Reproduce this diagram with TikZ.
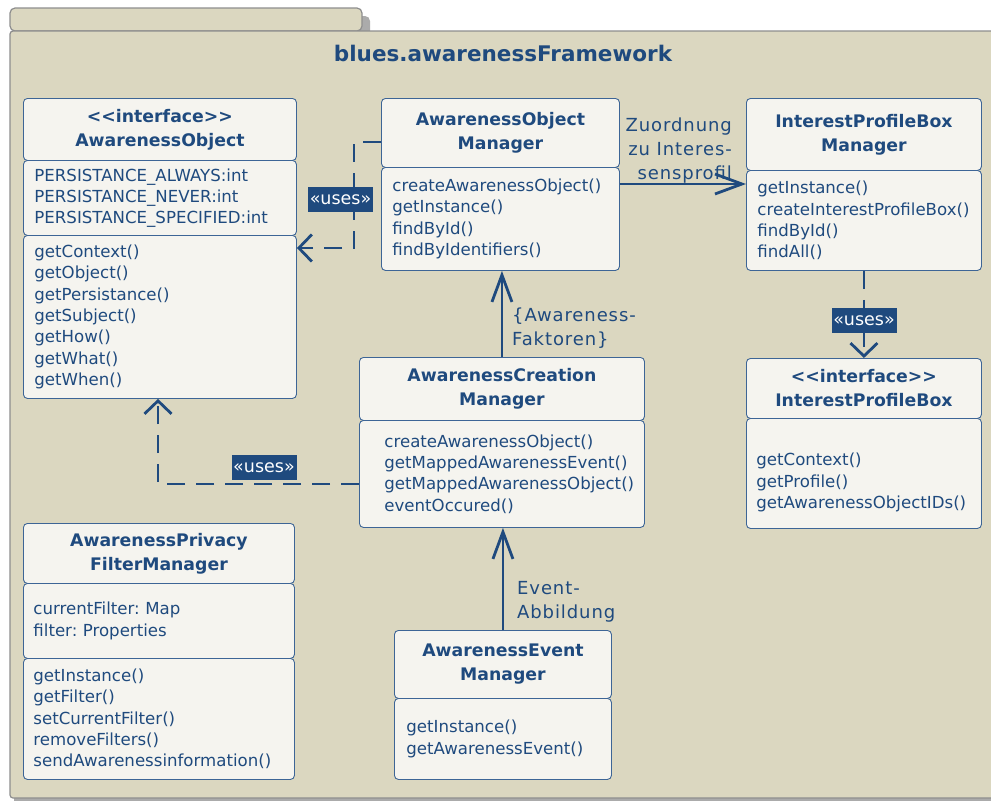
\documentclass[tikz,border=0pt]{standalone}
\usepackage{fontspec}
\setmainfont{DejaVu Sans}
\newfontfamily\labelfont[LetterSpace=5]{DejaVu Sans}
\usetikzlibrary{arrows.meta}
\hyphenpenalty=10000
\exhyphenpenalty=10000
\frenchspacing
\definecolor{ink}{HTML}{1F4A7E}
\definecolor{pkgfill}{HTML}{DBD7C0}
\definecolor{pkgline}{HTML}{8E8E8E}
\definecolor{pkgshadow}{HTML}{ABABAB}
\definecolor{boxfill}{HTML}{F5F4EF}
\definecolor{boxline}{HTML}{3D6596}
\tikzset{
  compartment/.style={draw=boxline, fill=boxfill, line width=0.9pt, rounded corners=4pt,
    anchor=north west, inner ysep=0pt, text=ink},
  classhead/.style={compartment, align=center, inner xsep=1pt,
    font=\bfseries\fontsize{17.3pt}{24pt}\selectfont},
  classbody/.style={compartment, align=left, font=\fontsize{16.6pt}{21.3pt}\selectfont},
  stereotype/.style={fill=ink, text=white, inner sep=0pt, minimum width=65pt,
    minimum height=25pt, font=\fontsize{17.5pt}{20pt}\selectfont},
  depline/.style={draw=ink, line width=2.8pt, dash pattern=on 18pt off 11pt,
    -{Straight Barb[length=13pt,width=27pt]}},
  assocline/.style={draw=ink, line width=2.8pt, -{Straight Barb[length=27pt,width=20pt]}},
  connlabel/.style={text=ink, inner sep=0pt, font=\labelfont\fontsize{18pt}{24pt}\selectfont},
}
\begin{document}
\begin{tikzpicture}[x=1pt,y=-1pt]
\useasboundingbox (0,0) rectangle (991,801);

% package frame with its tab
\fill[pkgshadow, rounded corners=5pt] (18,16) rectangle (370,38);
\fill[pkgshadow] (14,35) rectangle (1014,801);
\draw[pkgline, fill=pkgfill, line width=1.2pt, rounded corners=5pt] (10,8) rectangle (362,31);
\draw[pkgline, fill=pkgfill, line width=1.2pt, rounded corners=3pt] (10,31) rectangle (1010,798);
\node[text=ink, font=\bfseries\fontsize{21.5pt}{26pt}\selectfont] (title) at (503,53) {blues.awarenessFramework};

% AwarenessObject
\node[classhead, minimum width=273pt, text width=271pt, minimum height=62pt] (ao-head) at (23,98)
  {<\kern0pt<interface>\kern0pt>\\AwarenessObject};
\node[classbody, minimum width=273pt, inner xsep=11pt, text width=251pt, minimum height=75pt] (ao-attr) at (23,160)
  {PERSISTANCE\_ALWAYS:int\\PERSISTANCE\_NEVER:int\\PERSISTANCE\_SPECIFIED:int};
\node[classbody, minimum width=273pt, inner xsep=11pt, text width=251pt, minimum height=163pt] (ao-ops) at (23,235)
  {getContext()\\getObject()\\getPersistance()\\getSubject()\\getHow()\\getWhat()\\getWhen()};

% AwarenessObjectManager
\node[classhead, minimum width=238pt, text width=236pt, minimum height=69pt] (aom-head) at (381,98)
  {AwarenessObject\\Manager};
\node[classbody, minimum width=238pt, inner xsep=11pt, text width=216pt, minimum height=103pt] (aom-ops) at (381,167)
  {createAwarenessObject()\\getInstance()\\findById()\\findByIdentifiers()};

% InterestProfileBoxManager
\node[classhead, minimum width=235pt, text width=233pt, minimum height=72pt] (ipbm-head) at (746,98)
  {InterestProfileBox\\Manager};
\node[classbody, minimum width=235pt, inner xsep=11pt, text width=213pt, minimum height=100pt] (ipbm-ops) at (746,170)
  {getInstance()\\createInterestProfileBox()\\findById()\\findAll()};

% InterestProfileBox (operations sit below an empty first row)
\node[classhead, minimum width=235pt, text width=233pt, minimum height=60pt] (ipb-head) at (746,358)
  {<\kern0pt<interface>\kern0pt>\\InterestProfileBox};
\node[classbody, minimum width=235pt, inner xsep=10pt, text width=215pt, minimum height=110pt] (ipb-ops) at (746,418)
  {\rule{0pt}{31pt}getContext()\\getProfile()\\getAwarenessObjectIDs()};

% AwarenessCreationManager
\node[classhead, minimum width=285pt, text width=283pt, minimum height=63pt] (acm-head) at (359,357)
  {AwarenessCreation\\Manager};
\node[classbody, minimum width=285pt, inner xsep=25pt, text width=235pt, minimum height=107pt] (acm-ops) at (359,420)
  {createAwarenessObject()\\getMappedAwarenessEvent()\\getMappedAwarenessObject()\\eventOccured()};

% AwarenessPrivacyFilterManager
\node[classhead, minimum width=271pt, text width=269pt, minimum height=60pt] (apfm-head) at (23,523)
  {AwarenessPrivacy\\FilterManager};
\node[classbody, minimum width=271pt, inner xsep=10pt, text width=251pt, minimum height=75pt] (apfm-attr) at (23,583)
  {currentFilter: Map\\filter: Properties};
\node[classbody, minimum width=271pt, inner xsep=10pt, text width=251pt, minimum height=121pt] (apfm-ops) at (23,658)
  {getInstance()\\getFilter()\\setCurrentFilter()\\removeFilters()\\sendAwarenessinformation()};

% AwarenessEventManager
\node[classhead, minimum width=217pt, text width=215pt, minimum height=68pt] (aem-head) at (394,630)
  {AwarenessEvent\\Manager};
\node[classbody, minimum width=217pt, inner xsep=12pt, text width=193pt, minimum height=81pt] (aem-ops) at (394,698)
  {getInstance()\\getAwarenessEvent()};

% dependencies
\draw[depline] (aom-head.west |- 0,142) -- (354,142) -- (354,248) -- (ao-ops.east |- 0,248);
\node[stereotype] (uses1) at (340.5,199.5) {«uses»};
\draw[depline] (ipbm-ops.south) -- (ipb-head.north);
\node[stereotype] (uses2) at (864,320.5) {«uses»};
\draw[depline] (acm-ops.west |- 0,484) -| (ao-ops.south -| 158,0);
\node[stereotype] (uses3) at (264,467.5) {«uses»};

% associations
\draw[assocline] (aom-ops.east |- 0,184) -- (ipbm-ops.west |- 0,184);
\node[connlabel, align=right, anchor=north east] (zuord) at (732,118) {Zuordnung\\zu Interes-\\sensprofil};
\draw[assocline] (acm-head.north) -- (acm-head.north |- aom-ops.south);
\node[connlabel, align=left, anchor=north west] (faktoren) at (512,308) {\{Awareness-\\Faktoren\}};
\draw[assocline] (aem-head.north) -- (aem-head.north |- acm-ops.south);
\node[connlabel, align=left, anchor=north west] (abbildung) at (517,581) {Event-\\Abbildung};
\end{tikzpicture}
\end{document}
